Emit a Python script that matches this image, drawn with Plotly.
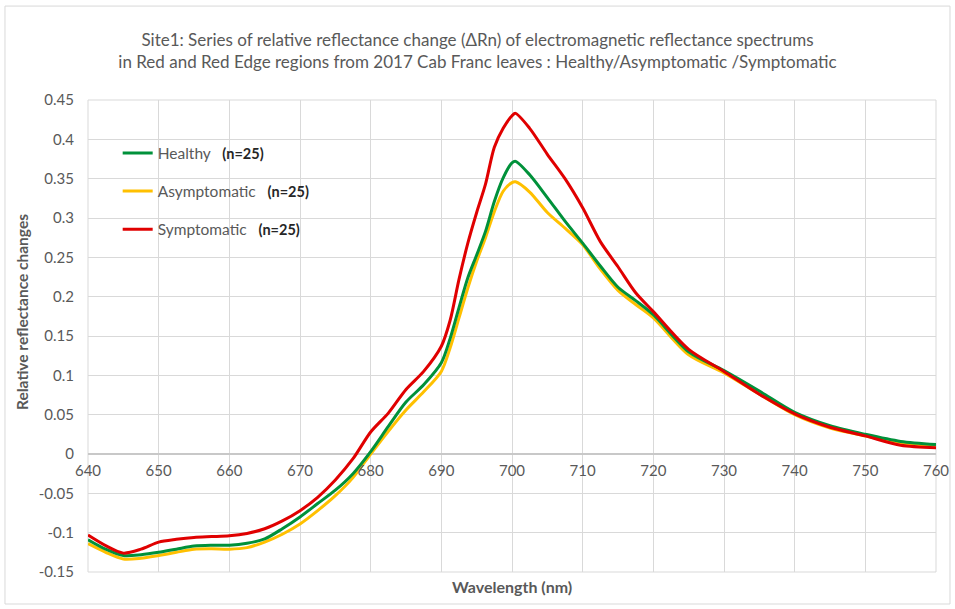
import plotly.graph_objects as go

wavelength = [640, 642.5, 645, 647.5, 650, 652.5, 655, 657.5, 660, 662.5, 665, 667.5,
              670, 672.5, 675, 677.5, 680, 682.5, 685, 687.5, 690, 691.25, 692.5, 693.75,
              695, 696.25, 697.5, 698.75, 700, 700.5, 702.5, 705, 707.5, 710, 712.5, 715,
              717.5, 720, 725, 730, 735, 740, 745, 750, 755, 760]

healthy = [-0.109, -0.121, -0.129, -0.128, -0.125, -0.121, -0.117, -0.116, -0.116, -0.1135,
           -0.108, -0.095, -0.080, -0.063, -0.046, -0.025, 0.003, 0.035, 0.066, 0.088,
           0.116, 0.147, 0.186, 0.224, 0.253, 0.283, 0.321, 0.351, 0.370, 0.372, 0.355,
           0.326, 0.296, 0.268, 0.239, 0.212, 0.195, 0.177, 0.130, 0.106, 0.080, 0.053,
           0.036, 0.025, 0.016, 0.012]

asymptomatic = [-0.114, -0.125, -0.1335, -0.1325, -0.129, -0.125, -0.121, -0.1205, -0.121, -0.119,
                -0.112, -0.102, -0.089, -0.072, -0.053, -0.030, 0.000, 0.029, 0.056, 0.079,
                0.105, 0.135, 0.173, 0.211, 0.245, 0.275, 0.308, 0.334, 0.345, 0.346, 0.333,
                0.307, 0.287, 0.266, 0.235, 0.208, 0.190, 0.173, 0.126, 0.103, 0.076, 0.050,
                0.033, 0.023, 0.014, 0.011]

symptomatic = [-0.103, -0.1165, -0.126, -0.121, -0.112, -0.1085, -0.106, -0.105, -0.104, -0.101,
               -0.095, -0.085, -0.072, -0.055, -0.033, -0.006, 0.028, 0.052, 0.082, 0.105,
               0.137, 0.170, 0.222, 0.268, 0.307, 0.343, 0.390, 0.414, 0.430, 0.433, 0.414,
               0.381, 0.350, 0.313, 0.270, 0.238, 0.205, 0.181, 0.133, 0.105, 0.076, 0.051,
               0.034, 0.023, 0.011, 0.008]

x_ticks = list(range(640, 761, 10))
y_ticks = [-0.15, -0.1, -0.05, 0, 0.05, 0.1, 0.15, 0.2, 0.25, 0.3, 0.35, 0.4, 0.45]
y_tick_labels = ["-0.15", "-0.1", "-0.05", "0", "0.05", "0.1", "0.15", "0.2", "0.25",
                 "0.3", "0.35", "0.4", "0.45"]

FONT = "Lato"
GREY = "#595959"
GRID = "#d9d9d9"
sp = "\u00a0"
tag = "<b><span style='color:#262626;font-size:14.5px'>(n=25)</span></b>"

series = [
    ("Asymptomatic" + sp * 3 + tag, asymptomatic, "#FFC000", 2),
    ("Healthy" + sp * 3 + tag, healthy, "#00913A", 1),
    ("Symptomatic" + sp * 3 + tag, symptomatic, "#E00000", 3),
]

fig = go.Figure()
for name, vals, color, rank in series:
    fig.add_trace(go.Scatter(
        x=wavelength, y=vals, mode="lines", name=name,
        line=dict(color=color, width=3, shape="spline", smoothing=0.8),
        legendrank=rank, legendgroup=str(rank),
    ))

fig.update_layout(
    width=955, height=609,
    margin=dict(l=88, r=19, t=100, b=37),
    paper_bgcolor="white", plot_bgcolor="white",
    font=dict(family=FONT, color=GREY, size=14),
    title=dict(
        text="Site1: Series of relative reflectance change (ΔRn) of electromagnetic reflectance spectrums<br>"
             "in Red and Red Edge regions from 2017 Cab Franc leaves : Healthy/Asymptomatic /Symptomatic",
        x=0.5, xanchor="center", y=0.925, yanchor="middle",
        font=dict(family=FONT, size=17, color=GREY),
    ),
    legend=dict(
        x=0.035, y=0.923, xanchor="left", yanchor="top",
        bgcolor="rgba(0,0,0,0)", font=dict(family=FONT, size=15.5, color=GREY),
        tracegroupgap=15, itemclick=False,
    ),
    showlegend=True,
)

fig.update_xaxes(
    range=[640, 760], tickvals=x_ticks, ticktext=[str(t) for t in x_ticks],
    showgrid=True, gridcolor=GRID, gridwidth=1,
    zeroline=False, showline=False, ticks="",
    anchor="free", position=0.25, automargin=False,
    ticklabelstandoff=6,
    tickfont=dict(family=FONT, size=15, color=GREY),
)
fig.update_yaxes(
    range=[-0.15, 0.45], tickvals=y_ticks, ticktext=y_tick_labels,
    showgrid=True, gridcolor=GRID, gridwidth=1,
    zeroline=True, zerolinecolor="#c8c8c8", zerolinewidth=2,
    showline=False, ticks="", automargin=False,
    ticklabelstandoff=13,
    tickfont=dict(family=FONT, size=15, color=GREY),
)

fig.add_annotation(
    text="<b>Relative reflectance changes</b>", xref="paper", yref="paper",
    x=-0.0778, y=0.551, xanchor="center", yanchor="middle", textangle=-90,
    showarrow=False, font=dict(family=FONT, size=15.5, color=GREY),
)
fig.add_annotation(
    text="<b>Wavelength (nm)</b>", xref="paper", yref="paper",
    x=0.5, y=-0.006, xanchor="center", yanchor="top", showarrow=False,
    font=dict(family=FONT, size=16, color=GREY),
)

# plot area frame and outer chart border
fig.add_shape(type="rect", xref="paper", yref="paper", x0=0, x1=1, y0=0, y1=1,
              line=dict(color=GRID, width=1), layer="below")
fig.add_shape(type="rect", xref="paper", yref="paper",
              x0=-0.0979, x1=1.0165, y0=-0.0678, y1=1.199,
              line=dict(color=GRID, width=1), layer="below")

fig.write_html("out.html")
